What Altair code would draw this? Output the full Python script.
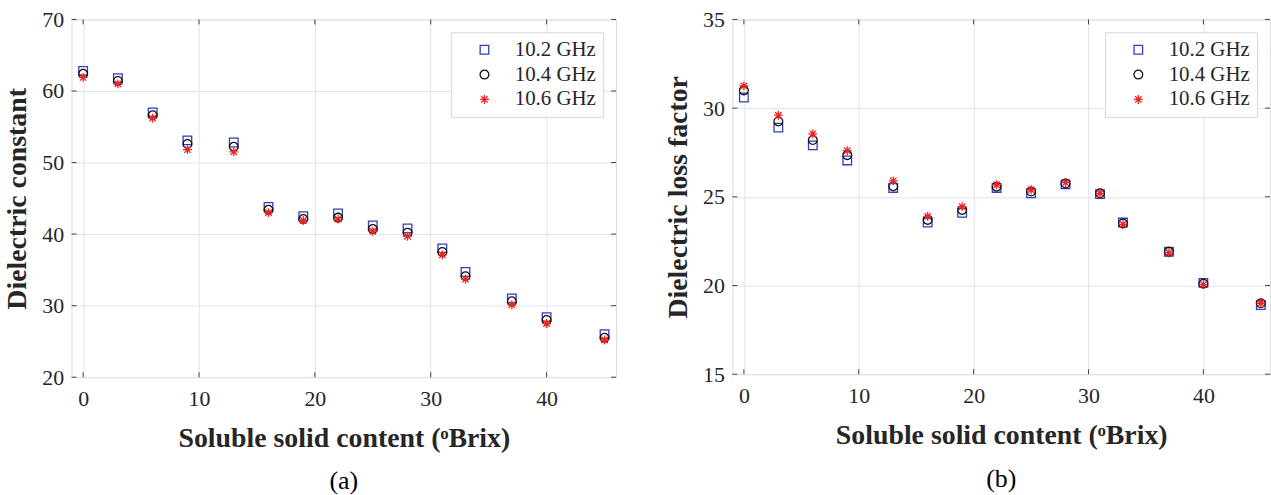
import altair as alt
import pandas as pd

brix = [0, 3, 6, 9, 13, 16, 19, 22, 25, 28, 31, 33, 37, 40, 45]
freqs = ["10.2 GHz", "10.4 GHz", "10.6 GHz"]

const_102 = [62.8, 61.8, 57.0, 53.1, 52.8, 43.8, 42.5, 42.9, 41.2, 40.8, 38.0, 34.7, 31.0, 28.4, 26.0]
const_104 = [62.4, 61.4, 56.6, 52.6, 52.2, 43.4, 42.1, 42.3, 40.7, 40.2, 37.5, 34.1, 30.6, 28.0, 25.5]
const_106 = [61.9, 61.0, 56.2, 51.8, 51.5, 43.0, 41.9, 42.1, 40.4, 39.7, 37.1, 33.7, 30.1, 27.5, 25.2]

loss_102 = [30.6, 28.9, 27.9, 27.05, 25.5, 23.55, 24.1, 25.5, 25.2, 25.7, 25.15, 23.55, 21.9, 20.15, 18.9]
loss_104 = [31.0, 29.25, 28.2, 27.35, 25.6, 23.7, 24.26, 25.57, 25.3, 25.75, 25.2, 23.5, 21.9, 20.1, 19.0]
loss_106 = [31.25, 29.6, 28.55, 27.6, 25.9, 23.9, 24.45, 25.68, 25.4, 25.8, 25.2, 23.45, 21.85, 20.05, 19.0]

x_ticks = [0, 10, 20, 30, 40]
ticks_a = [20, 30, 40, 50, 60, 70]
ticks_b = [15, 20, 25, 30, 35]

FONT = "Liberation Serif"
TXT = "#262626"
FRAME = "#444444"
GRID = "#dfe3ea"
ASTERISK = "M0,-1L0,1M-1,0L1,0M-0.72,-0.72L0.72,0.72M-0.72,0.72L0.72,-0.72"
COLORS = ["#2f3fbf", "#111111", "#ee2222"]
SHAPES = ["square", "circle", ASTERISK]
SIZES = [75, 80, 115]


def long_df(series):
    rows = []
    for i, (f, vals) in enumerate(zip(freqs, series)):
        for b, v in zip(brix, vals):
            rows.append({"brix": b, "val": v, "freq": f, "order": i})
    return pd.DataFrame(rows)


def panel(series, ytitle, ydom, yticks, xdom, W, H, caption):
    df = long_df(series)
    xs = alt.Scale(domain=xdom, nice=False, zero=False)
    ys = alt.Scale(domain=ydom, nice=False, zero=False)
    xaxis = alt.Axis(values=x_ticks, title="Soluble solid content (ᵒBrix)", ticks=False, domain=False,
                     grid=True, gridColor=GRID, gridWidth=1, labelFont=FONT, labelFontSize=22,
                     labelColor=TXT, labelPadding=11, titleFont=FONT, titleFontSize=28,
                     titleFontWeight="bold", titleColor=TXT, titlePadding=16, labelFlush=False)
    yaxis = alt.Axis(values=yticks, title=ytitle, ticks=False, domain=False, grid=True,
                     gridColor=GRID, gridWidth=1, labelFont=FONT, labelFontSize=22, labelColor=TXT,
                     labelPadding=8, titleFont=FONT, titleFontSize=28, titleFontWeight="bold",
                     titleColor=TXT, titlePadding=10, labelFlush=False)
    pts = alt.Chart(df).mark_point(filled=False, strokeWidth=1.3, opacity=1).encode(
        x=alt.X("brix:Q", scale=xs, axis=xaxis),
        y=alt.Y("val:Q", scale=ys, axis=yaxis),
        color=alt.Color("freq:N", scale=alt.Scale(domain=freqs, range=COLORS),
                        legend=alt.Legend(orient="top-right", offset=13, title=None,
                                          fillColor="white", strokeColor="#d6d6d6",
                                          padding=7, rowPadding=3, labelFont=FONT,
                                          labelFontSize=21, labelColor=TXT, symbolSize=75,
                                          symbolStrokeWidth=1.3, symbolOffset=16,
                                          labelOffset=20)),
        shape=alt.Shape("freq:N", scale=alt.Scale(domain=freqs, range=SHAPES), legend=None),
        size=alt.Size("freq:N", scale=alt.Scale(domain=freqs, range=SIZES), legend=None),
        order=alt.Order("order:Q"),
    )

    xt = pd.DataFrame({"v": x_ticks})
    yt = pd.DataFrame({"v": yticks})
    tb = alt.Chart(xt).mark_rule(color=FRAME, strokeWidth=1).encode(
        x=alt.X("v:Q", scale=xs), y=alt.value(H), y2=alt.value(H - 5))
    tt = alt.Chart(xt).mark_rule(color=FRAME, strokeWidth=1).encode(
        x=alt.X("v:Q", scale=xs), y=alt.value(0), y2=alt.value(5))
    tl = alt.Chart(yt).mark_rule(color=FRAME, strokeWidth=1).encode(
        y=alt.Y("v:Q", scale=ys), x=alt.value(0), x2=alt.value(5))
    tr = alt.Chart(yt).mark_rule(color=FRAME, strokeWidth=1).encode(
        y=alt.Y("v:Q", scale=ys), x=alt.value(W), x2=alt.value(W - 5))
    return alt.layer(tb, tt, tl, tr, pts).properties(
        width=W, height=H,
        title=alt.TitleParams(caption, orient="bottom", anchor="middle", frame="group",
                              fontSize=26, font=FONT, fontWeight="normal", color="black",
                              offset=16))


pa = panel([const_102, const_104, const_106], "Dielectric constant", [20, 70], ticks_a,
           [-1, 46], 548, 360, "(a)")
pb = panel([loss_102, loss_104, loss_106], "Dielectric loss factor", [15, 35], ticks_b,
           [-1, 45.8], 541, 357, "(b)")

chart = alt.hconcat(pa, pb, spacing=47).resolve_scale(
    color="independent", shape="independent", size="independent",
    x="independent", y="independent"
).properties(padding={"left": 3, "top": 6, "right": 0, "bottom": 0}).configure_view(
    stroke=FRAME, strokeWidth=1
).configure(background="white")

chart.save("out.html", embed_options={"renderer": "svg", "actions": False})
